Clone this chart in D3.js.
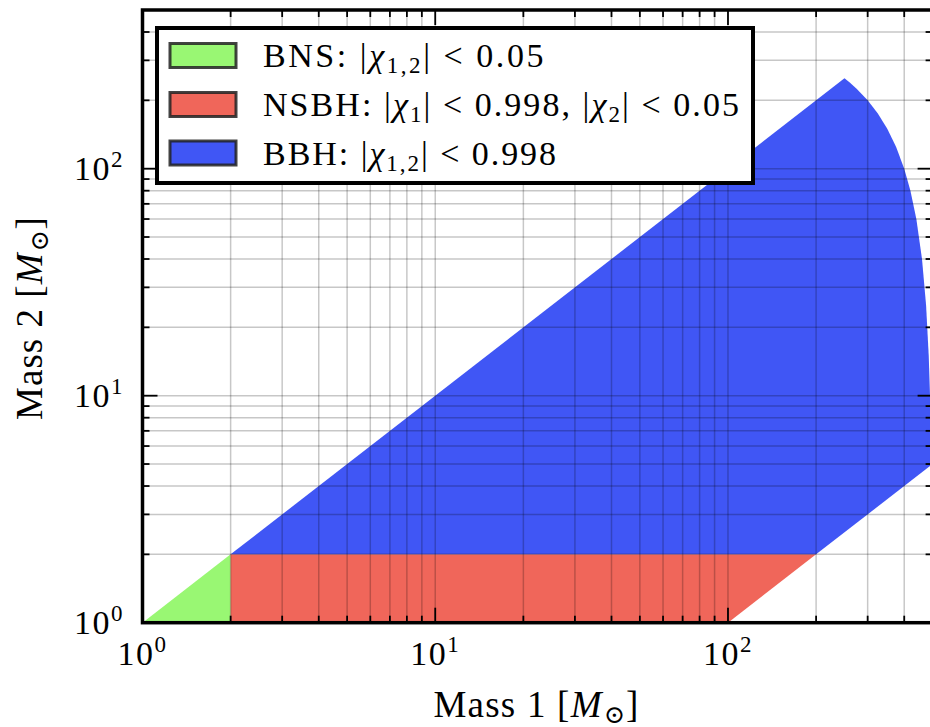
<!DOCTYPE html>
<html>
<head>
<meta charset="utf-8">
<script src="https://cdn.jsdelivr.net/npm/d3@7/dist/d3.min.js"></script>
<style>
  html, body { margin: 0; padding: 0; background: #fff; }
  svg { display: block; }
  text { font-family: "Liberation Serif", "DejaVu Serif", serif; fill: #000; }
</style>
</head>
<body>
<svg id="chart" width="930" height="727"></svg>
<script>
// Mass ranges (solar masses) shared by both axes
const massDomain = [1, 500];
const majorTicks = [1, 10, 100];
const minorTicks = [2, 3, 4, 5, 6, 7, 8, 9, 20, 30, 40, 50, 60, 70, 80, 90, 200, 300, 400];

// Region outlines as [mass1, mass2] vertices
const bnsRegion = [[1, 1], [2, 2], [2, 1]];
const nsbhRegion = [[2, 1], [2, 2], [200, 2], [100, 1]];
// BBH: equal-mass edge up to 250+250, total-mass edge (500), mass-ratio edge (100:1)
const bbhRegion = [
  [2, 2], [250, 250],
  [260, 240], [275, 225], [300, 200], [325, 175], [350, 150], [375, 125],
  [400, 100], [420, 80], [440, 60], [460, 40], [475, 25], [485, 15],
  [490, 10], [493, 7], [495.05, 4.95],
  [200, 2]
];

const regionNames = ["BNS", "NSBH", "BBH"];
const regionColors = ["#99f773", "#f0665a", "#4056f5"];

const svg = d3.select("#chart");
const pL = 142.5, pR = 932.6, pT = 10, pB = 622.7;

const x = d3.scaleLog().domain(massDomain).range([pL, pR]);
const y = d3.scaleLog().domain(massDomain).range([pB, pT]);

svg.append("rect").attr("width", 930).attr("height", 727).attr("fill", "#fff");

svg.append("clipPath").attr("id", "plot-clip")
  .append("rect").attr("x", pL).attr("y", pT)
  .attr("width", pR - pL).attr("height", pB - pT);

const plot = svg.append("g").attr("clip-path", "url(#plot-clip)");

const area = d3.line().x(d => x(d[0])).y(d => y(d[1]));
[bnsRegion, nsbhRegion, bbhRegion].forEach((reg, i) => {
  plot.append("path").attr("d", area(reg) + "Z")
    .attr("fill", regionColors[i]).attr("stroke", "none");
});

// Grid on every major and minor decade step, above the fills
const allTicks = majorTicks.concat(minorTicks).filter(v => v > massDomain[0] && v < massDomain[1]);
const grid = plot.append("g").attr("stroke", "#000").attr("stroke-opacity", 0.22).attr("stroke-width", 1.5);
allTicks.forEach(v => {
  grid.append("line").attr("x1", x(v)).attr("x2", x(v)).attr("y1", pT).attr("y2", pB);
  grid.append("line").attr("y1", y(v)).attr("y2", y(v)).attr("x1", pL).attr("x2", pR);
});

// Inward ticks on all four sides
const tickG = svg.append("g").attr("stroke", "#000").attr("stroke-width", 1.8);
function drawTicks(values, len) {
  values.forEach(v => {
    const px = x(v), py = y(v);
    tickG.append("line").attr("x1", px).attr("x2", px).attr("y1", pB).attr("y2", pB - len);
    tickG.append("line").attr("x1", px).attr("x2", px).attr("y1", pT).attr("y2", pT + len);
    tickG.append("line").attr("y1", py).attr("y2", py).attr("x1", pL).attr("x2", pL + len);
    tickG.append("line").attr("y1", py).attr("y2", py).attr("x1", pR).attr("x2", pR - len);
  });
}
drawTicks(majorTicks, 15);
drawTicks(minorTicks, 7);

// Frame
svg.append("rect").attr("x", pL).attr("y", pT)
  .attr("width", pR - pL).attr("height", pB - pT)
  .attr("fill", "none").attr("stroke", "#000").attr("stroke-width", 3.5);

// Spread a text's glyphs so it spans the wanted width
function spreadTo(t, width) {
  const node = t.node();
  const n = node.textContent.length;
  const w = node.getComputedTextLength();
  if (n > 1 && width > w) t.attr("letter-spacing", (width - w) / n);
}

// Tick labels 10^k
function powerLabel(g, v) {
  const k = Math.round(Math.log10(v));
  g.append("tspan").text("10");
  g.append("tspan").text(k).attr("font-size", 23).attr("dy", -13);
}
majorTicks.forEach(v => {
  const t = svg.append("text").attr("x", x(v)).attr("y", 665)
    .attr("text-anchor", "middle").attr("font-size", 34);
  powerLabel(t, v);
  spreadTo(t, 50);
  const u = svg.append("text").attr("x", 124).attr("y", y(v) + 11)
    .attr("text-anchor", "end").attr("font-size", 34);
  powerLabel(u, v);
  spreadTo(u, 50);
});

// Axis titles
function massLabel(t, n) {
  t.append("tspan").text("Mass " + n + " [");
  t.append("tspan").text("M").attr("font-style", "italic");
  t.append("tspan").text("\u2299").attr("font-size", "0.68em").attr("dy", 6).attr("dx", 1);
  t.append("tspan").text("]").attr("dy", -6);
}
const xTitle = svg.append("text").attr("x", 536.5).attr("y", 717)
  .attr("text-anchor", "middle").attr("font-size", 37);
massLabel(xTitle, 1);
spreadTo(xTitle, 205);
const yTitle = svg.append("text").attr("transform", "translate(42,318) rotate(-90)")
  .attr("text-anchor", "middle").attr("font-size", 37);
massLabel(yTitle, 2);
spreadTo(yTitle, 203);

// Legend
const legend = svg.append("g");
legend.append("rect").attr("x", 157).attr("y", 28).attr("width", 596).attr("height", 155)
  .attr("fill", "#fff").attr("stroke", "#000").attr("stroke-width", 4);

const legendRows = [
  [["BNS: |", ""], ["\u03c7", "i"], ["1,2", "s"], ["| < 0.05", ""]],
  [["NSBH: |", ""], ["\u03c7", "i"], ["1", "s"], ["| < 0.998, |", ""], ["\u03c7", "i"], ["2", "s"], ["| < 0.05", ""]],
  [["BBH: |", ""], ["\u03c7", "i"], ["1,2", "s"], ["| < 0.998", ""]]
];
const legendWidths = [283, 478, 295];
const rowY = [55.5, 104.5, 153];
legendRows.forEach((parts, i) => {
  legend.append("rect").attr("x", 170).attr("y", rowY[i] - 12).attr("width", 66).attr("height", 24)
    .attr("fill", regionColors[i]).attr("stroke", "#222").attr("stroke-opacity", 0.85).attr("stroke-width", 3);
  const t = legend.append("text").attr("x", 263).attr("y", rowY[i] + 11.5).attr("font-size", 34);
  let shifted = false;
  parts.forEach(([s, kind]) => {
    const ts = t.append("tspan").text(s);
    if (kind === "i") ts.attr("font-style", "italic");
    if (kind === "s") { ts.attr("font-size", 23).attr("dy", 6); shifted = true; }
    else if (shifted) { ts.attr("dy", -6); shifted = false; }
  });
  spreadTo(t, legendWidths[i]);
});
</script>
</body>
</html>
